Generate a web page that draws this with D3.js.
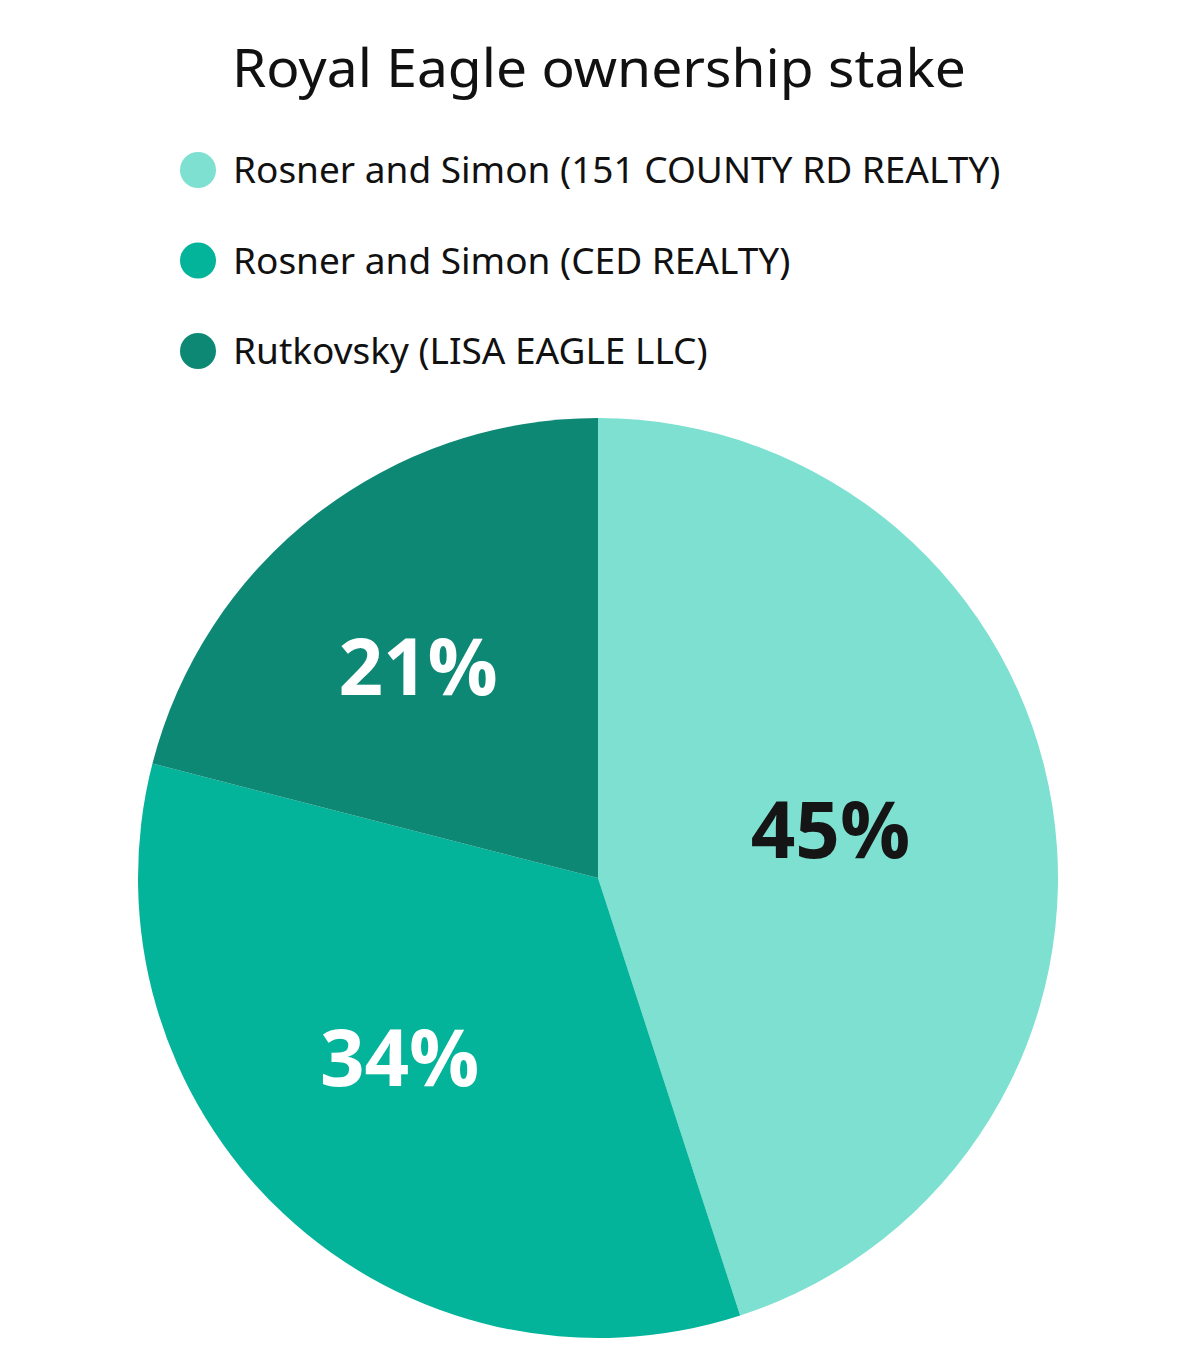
<!DOCTYPE html>
<html><head><meta charset="utf-8">
<script src="https://cdn.jsdelivr.net/npm/d3@7"></script>
<style>body{margin:0;background:#fff}</style>
</head><body>
<svg id="c" width="1200" height="1362"></svg>
<script>
const title = "Royal Eagle ownership stake";
const categories = ["Rosner and Simon (151 COUNTY RD REALTY)", "Rosner and Simon (CED REALTY)", "Rutkovsky (LISA EAGLE LLC)"];
const values = [45, 34, 21];
const colors = ["#7de0d0", "#03b39a", "#0c8875"];
const labelColors = ["#151515", "#ffffff", "#ffffff"];

const svg = d3.select("#c");
const font = "'Noto Sans', 'Open Sans', sans-serif";

svg.append("text").attr("x", 599).attr("y", 87).attr("text-anchor", "middle")
  .attr("font-family", font).attr("font-size", 52).attr("fill", "#111")
  .attr("textLength", 734).attr("lengthAdjust", "spacingAndGlyphs").text(title);

const leg = svg.append("g");
const ly = d3.scalePoint().domain(categories).range([170, 351]);
categories.forEach((c, i) => {
  leg.append("circle").attr("cx", 198).attr("cy", ly(c)).attr("r", 18).attr("fill", colors[i]);
  leg.append("text").attr("x", 233).attr("y", ly(c) + 13).attr("font-family", font)
    .attr("font-size", 37).attr("fill", "#111").text(c);
});

const cx = 598, cy = 878, R = 460;
const pie = d3.pie().sort(null).value(d => d);
const arcs = pie(values);
const arc = d3.arc().innerRadius(0).outerRadius(R);
const labelArc = d3.arc().innerRadius(R * 0.56).outerRadius(R * 0.56);
const g = svg.append("g").attr("transform", `translate(${cx},${cy})`);
g.selectAll("path").data(arcs).enter().append("path")
  .attr("d", arc).attr("fill", (d, i) => colors[i]);
const lg = g.append("g").attr("transform", "translate(-22,-8)");
lg.selectAll("text.lbl").data(arcs).enter().append("text").attr("class", "lbl")
  .attr("transform", d => `translate(${labelArc.centroid(d)})`)
  .attr("text-anchor", "middle").attr("dy", "0.36em")
  .attr("font-family", "'Open Sans', sans-serif").attr("font-weight", 700)
  .attr("font-size", 78).attr("fill", (d, i) => labelColors[i])
  .text(d => d.data + "%");
</script>
</body></html>
